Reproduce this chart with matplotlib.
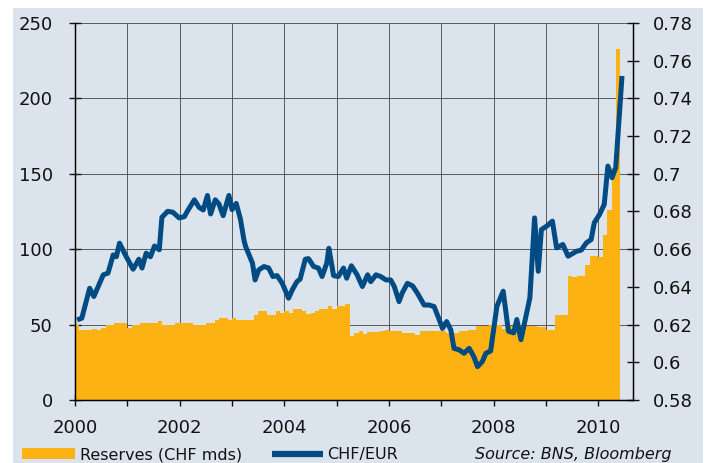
import matplotlib.pyplot as plt
from matplotlib.patches import Rectangle
from matplotlib.lines import Line2D

# monthly reserves, Jan 2000 .. May 2010 (CHF bn)
reserves = [
    50, 46.2, 46.2, 46.2, 47.3, 46.2, 48, 49.6, 49.6, 50.9, 50.9, 50.9,
    48, 49.6, 49.6, 50.9, 50.9, 50.9, 50.9, 52.2, 50, 50, 50, 50.9,
    50.9, 50.9, 50.9, 50, 50, 50, 50.9, 50.9, 52.9, 54.4, 54.4, 52.9,
    54.4, 52.9, 52.9, 52.9, 52.9, 56.2, 59, 59, 56.6, 56.6, 58.8, 57.5,
    59, 58, 60.6, 60.6, 59, 57.3, 58, 58.8, 60.6, 60.6, 62.2, 60.6,
    62.2, 62.2, 63.9, 42.5, 44.5, 45.6, 44, 45.1, 45.1, 45.1, 45.6, 46.2,
    45.6, 45.6, 45.6, 44.5, 44.5, 44.5, 43.4, 45.6, 45.6, 45.6, 45.6, 45.6,
    45.6, 44.5, 44.5, 44.5, 45.6, 45.6, 46.7, 46.7, 48.9, 48.9, 48.9, 50,
    50, 50, 47.3, 49.3, 49.3, 49.3, 49.3, 49.3, 49.3, 49.3, 48.2, 48.2,
    46.7, 46.7, 56.2, 56.2, 56.2, 82.5, 81.4, 82.5, 82.5, 89.8, 95.8, 95.8,
    94.7, 109.1, 125.7, 154, 232.5,
]
months = [2000 + m / 12 for m in range(len(reserves))]

chf_dates = [
    2000.04, 2000.13, 2000.28, 2000.36, 2000.54, 2000.63, 2000.73, 2000.79,
    2000.85, 2000.98, 2001.11, 2001.22, 2001.28, 2001.36, 2001.44, 2001.52,
    2001.61, 2001.66, 2001.77, 2001.87, 2001.99, 2002.09, 2002.15, 2002.28,
    2002.37, 2002.45, 2002.53, 2002.59, 2002.68, 2002.75, 2002.83, 2002.94,
    2003.00, 2003.08, 2003.16, 2003.23, 2003.26, 2003.39, 2003.44, 2003.51,
    2003.61, 2003.70, 2003.78, 2003.86, 2003.96, 2004.08, 2004.15, 2004.24,
    2004.30, 2004.40, 2004.46, 2004.56, 2004.65, 2004.72, 2004.81, 2004.85,
    2004.94, 2005.03, 2005.13, 2005.19, 2005.28, 2005.39, 2005.49, 2005.59,
    2005.65, 2005.75, 2005.84, 2005.94, 2006.03, 2006.10, 2006.19, 2006.25,
    2006.35, 2006.45, 2006.54, 2006.67, 2006.76, 2006.86, 2006.96, 2007.02,
    2007.10, 2007.18, 2007.24, 2007.34, 2007.43, 2007.53, 2007.62, 2007.69,
    2007.78, 2007.85, 2007.94, 2008.06, 2008.18, 2008.28, 2008.38, 2008.44,
    2008.52, 2008.69, 2008.78, 2008.85, 2008.91, 2009.01, 2009.12, 2009.20,
    2009.32, 2009.42, 2009.58, 2009.67, 2009.77, 2009.86, 2009.92, 2010.02,
    2010.11, 2010.18, 2010.26, 2010.33, 2010.38, 2010.45,
]
chf_eur = [
    0.6225, 0.6234, 0.6393, 0.6349, 0.6464, 0.6473, 0.6570, 0.6560,
    0.6632, 0.6560, 0.6494, 0.6547, 0.6500, 0.6579, 0.6560, 0.6617,
    0.6597, 0.6769, 0.6801, 0.6796, 0.6766, 0.6773, 0.6803, 0.6862,
    0.6822, 0.6808, 0.6885, 0.6787, 0.6862, 0.6840, 0.6778, 0.6885,
    0.6810, 0.6843, 0.6760, 0.6645, 0.6614, 0.6526, 0.6437, 0.6490,
    0.6508, 0.6500, 0.6455, 0.6460, 0.6419, 0.6340, 0.6384, 0.6428,
    0.6441, 0.6547, 0.6550, 0.6508, 0.6500, 0.6455, 0.6526, 0.6605,
    0.6460, 0.6455, 0.6500, 0.6446, 0.6512, 0.6464, 0.6402, 0.6464,
    0.6428, 0.6464, 0.6455, 0.6437, 0.6437, 0.6402, 0.6322, 0.6367,
    0.6419, 0.6405, 0.6367, 0.6304, 0.6304, 0.6296, 0.6225, 0.6180,
    0.6216, 0.6172, 0.6074, 0.6066, 0.6048, 0.6074, 0.6030, 0.5977,
    0.6003, 0.6048, 0.6060, 0.6297, 0.6377, 0.6165, 0.6156, 0.6227,
    0.6120, 0.6342, 0.6766, 0.6483, 0.6704, 0.6722, 0.6749, 0.6607,
    0.6625, 0.6563, 0.6589, 0.6595, 0.6634, 0.6651, 0.6740, 0.6784,
    0.6837, 0.7041, 0.6979, 0.7032, 0.7235, 0.7519,
]

left_ticks = [0, 50, 100, 150, 200, 250]
right_ticks = [0.58, 0.60, 0.62, 0.64, 0.66, 0.68, 0.70, 0.72, 0.74, 0.76, 0.78]
right_labels = ["0.58", "0.6", "0.62", "0.64", "0.66", "0.68", "0.7",
                "0.72", "0.74", "0.76", "0.78"]
years = list(range(2000, 2011))

bg = "#dbe4ec"
orange = "#fdb214"
blue = "#004b84"

W, H = 708, 463
fig = plt.figure(figsize=(W / 100, H / 100), dpi=100)
fig.patch.set_facecolor("white")
fig.patches.append(Rectangle((13 / W, 0), 690 / W, 455 / H, transform=fig.transFigure,
                             facecolor=bg, edgecolor="none", zorder=-10))

ax = fig.add_axes([75 / W, 63 / H, 558 / W, 377 / H])
ax.set_facecolor(bg)
ax.set_axisbelow(True)
ax.bar(months, reserves, width=1 / 12, align="edge", color=orange, linewidth=0)
ax.set_xlim(2000, 2010.66)
ax.set_ylim(0, 250)
ax.set_yticks(left_ticks)
ax.set_xticks(years)
ax.set_xticklabels([str(y) if y % 2 == 0 else "" for y in years])
ax.grid(True, color="#5a5a5a", linewidth=0.7)
ax.spines["top"].set_visible(False)
for s in ["left", "bottom", "right"]:
    ax.spines[s].set_linewidth(1.0)
ax.tick_params(axis="both", direction="inout", length=8, width=1.0,
               labelsize=13, colors="#111111")
ax.tick_params(axis="y", pad=12)
ax.tick_params(axis="x", pad=10)

ax2 = ax.twinx()
ax2.plot(chf_dates, chf_eur, color=blue, linewidth=3.6,
         solid_joinstyle="round", solid_capstyle="butt")
ax2.set_ylim(0.58, 0.78)
ax2.set_yticks(right_ticks)
ax2.set_yticklabels(right_labels)
ax2.spines["top"].set_visible(False)
ax2.tick_params(axis="y", direction="inout", length=8, width=1.0,
                labelsize=13, colors="#111111", pad=10)

# legend row along the bottom edge
fig.patches.append(Rectangle((22 / W, 4 / H), 53 / W, 11 / H, transform=fig.transFigure,
                             facecolor=orange, edgecolor="none", zorder=5))
fig.text(80 / W, 4 / H, "Reserves (CHF mds)", fontsize=11.5, va="baseline", color="#111111")
fig.lines.append(Line2D([272 / W, 323 / W], [9 / H, 9 / H], transform=fig.transFigure,
                        color=blue, linewidth=4.5, solid_capstyle="butt", zorder=5))
fig.text(327 / W, 4 / H, "CHF/EUR", fontsize=11.5, va="baseline", color="#111111")
fig.text(475 / W, 4 / H, "Source: BNS, Bloomberg", fontsize=11.5, va="baseline",
         style="italic", color="#111111")

fig.savefig("out.png", dpi=100, facecolor=fig.get_facecolor())
